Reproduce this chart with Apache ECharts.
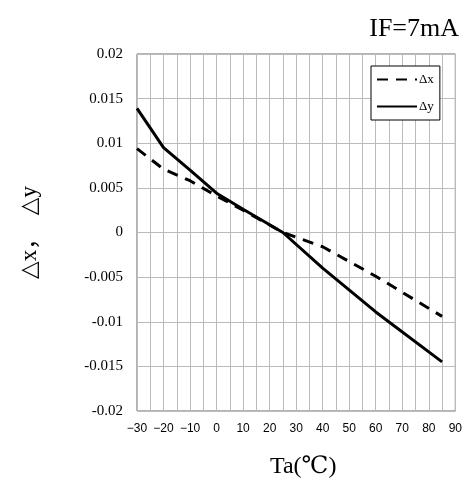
<!DOCTYPE html>
<html>
<head>
<meta charset="utf-8">
<script src="https://cdn.jsdelivr.net/npm/echarts@6/dist/echarts.min.js"></script>
<style>
html,body{margin:0;padding:0;background:#fff;}
#chart{width:465px;height:487px;}
</style>
</head>
<body>
<div id="chart"></div>
<script>
// Data
var temps  = [-30, -20, -10, 0, 10, 25, 40, 60, 85];
var deltaX = [0.0094, 0.0071, 0.0058, 0.0041, 0.0025, 0, -0.0016, -0.0049, -0.0094];
var deltaY = [0.0139, 0.0095, 0.0070, 0.0044, 0.0026, 0, -0.0040, -0.0089, -0.0145];
var seriesNames = ['Δx', 'Δy'];
var titleText = 'IF=7mA';
var xName = 'Ta(℃)';
var yName = '△x，  △y';

function pairs(xs, ys) { return xs.map(function (x, i) { return [x, ys[i]]; }); }

var serif = "'Liberation Serif', 'DejaVu Serif', 'Noto Sans CJK JP', serif";
var sans = "'Liberation Sans', 'DejaVu Sans', sans-serif";

var chart = echarts.init(document.getElementById('chart'), null, {renderer: 'canvas'});
chart.setOption({
  animation: false,
  backgroundColor: '#fff',
  title: {
    text: titleText,
    right: 1,
    top: 11,
    textStyle: {fontFamily: serif, fontSize: 26, fontWeight: 'normal', color: '#000'}
  },
  legend: {
    orient: 'vertical',
    left: 371,
    top: 66,
    padding: [7, 6, 7, 5],
    itemWidth: 40,
    itemHeight: 14,
    itemGap: 14,
    borderColor: '#000',
    borderWidth: 1,
    backgroundColor: '#fff',
    data: seriesNames,
    itemStyle: {opacity: 0},
    lineStyle: {opacity: 1},
    textStyle: {fontFamily: serif, fontSize: 13, color: '#000', padding: [0, 0, 0, -3]}
  },
  grid: {
    left: 137, right: 9, top: 54, bottom: 76,
    show: true, borderColor: '#666', borderWidth: 1, backgroundColor: '#fff'
  },
  xAxis: {
    type: 'value',
    min: -30, max: 90, interval: 10,
    name: xName,
    nameLocation: 'middle',
    nameGap: 44,
    nameTextStyle: {fontFamily: serif, fontSize: 24, color: '#000', padding: [0, 0, 0, 14]},
    axisLine: {show: false},
    axisTick: {show: false},
    minorTick: {show: false, splitNumber: 2},
    splitLine: {show: true, lineStyle: {color: '#bbb', width: 1}},
    minorSplitLine: {show: true, lineStyle: {color: '#bbb', width: 1}},
    axisLabel: {
      margin: 12,
      fontFamily: sans, fontSize: 12, color: '#000',
      formatter: function (v) { return String(v).replace('-', '−'); }
    }
  },
  yAxis: {
    type: 'value',
    min: -0.02, max: 0.02, interval: 0.005,
    name: yName,
    nameLocation: 'middle',
    nameGap: 96,
    nameRotate: 90,
    nameTextStyle: {fontFamily: serif, fontSize: 23, color: '#000'},
    axisLine: {show: false},
    axisTick: {show: false},
    splitLine: {show: true, lineStyle: {color: '#bbb', width: 1}},
    axisLabel: {
      margin: 14,
      fontFamily: serif, fontSize: 15, color: '#000',
      formatter: function (v) { return String(parseFloat(v.toFixed(4))); }
    }
  },
  series: [
    {
      name: seriesNames[0],
      type: 'line',
      data: pairs(temps, deltaX),
      symbol: 'none',
      showSymbol: false,
      lineStyle: {color: '#000', width: 3, type: [11, 8]},
      itemStyle: {color: '#000'}
    },
    {
      name: seriesNames[1],
      type: 'line',
      data: pairs(temps, deltaY),
      symbol: 'none',
      showSymbol: false,
      lineStyle: {color: '#000', width: 3, type: 'solid'},
      itemStyle: {color: '#000'}
    }
  ]
});
</script>
</body>
</html>
